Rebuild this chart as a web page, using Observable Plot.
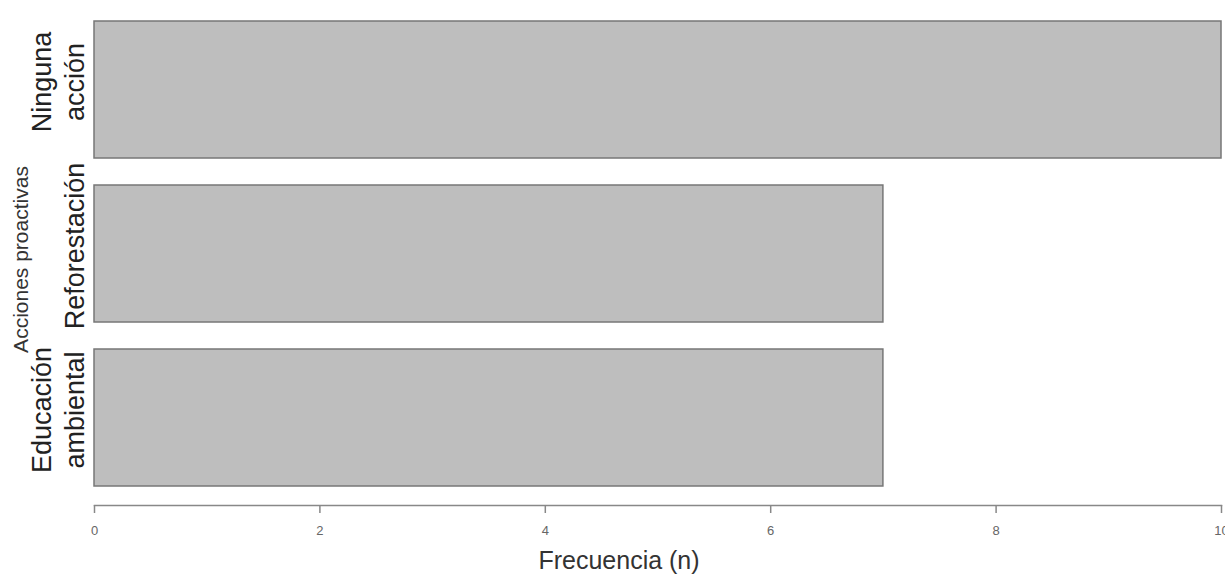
<!DOCTYPE html>
<html>
<head>
<meta charset="utf-8">
<script src="https://cdn.jsdelivr.net/npm/d3@7"></script>
<script src="https://cdn.jsdelivr.net/npm/@observablehq/plot@0.6"></script>
<style>
  html, body { margin: 0; padding: 0; background: #fff; }
  #chart svg { display: block; font-family: "Liberation Sans", Arial, sans-serif; }
</style>
</head>
<body>
<div id="chart"></div>
<script>
const categories = ["Ninguna\nacción", "Reforestación", "Educación\nambiental"];
const frequencies = [10, 7, 7];
const xTicks = [0, 2, 4, 6, 8, 10];
const xTitle = "Frecuencia (n)";
const yTitle = "Acciones proactivas";

const data = categories.map((c, i) => ({cat: c, n: frequencies[i]}));

const chart = Plot.plot({
  width: 1225,
  height: 579,
  marginLeft: 94,
  marginRight: 4,
  marginTop: 21,
  marginBottom: 74,
  insetBottom: 19,
  style: {fontFamily: "'Liberation Sans', Arial, sans-serif", background: "#fff"},
  x: {domain: [0, 10]},
  y: {domain: categories, paddingInner: 0.165, paddingOuter: 0},
  marks: [
    Plot.barX(data, {x: "n", y: "cat", fill: "#bebebe", stroke: "#777", strokeWidth: 1.5}),
    Plot.frame({anchor: "bottom", stroke: "#888", strokeWidth: 1.5}),
    Plot.axisX({ticks: xTicks, tickSize: 8, tickPadding: 12, fontSize: 13, color: "#666", stroke: "#888", strokeWidth: 1.5, label: null}),
    Plot.axisY({tickSize: 0, tickPadding: 11, tickRotate: -90, textAnchor: "middle", lineAnchor: "bottom", dy: -8, fontSize: 27, lineHeight: 1.2, fill: "#222", label: null}),
    Plot.text([yTitle], {frameAnchor: "left", textAnchor: "middle", rotate: -90, dx: -73, dy: -4, fontSize: 21, fill: "#333"}),
    Plot.text([xTitle], {frameAnchor: "bottom", dy: 63, dx: -39, fontSize: 25, fill: "#333"})
  ]
});
document.getElementById("chart").appendChild(chart);
</script>
</body>
</html>
